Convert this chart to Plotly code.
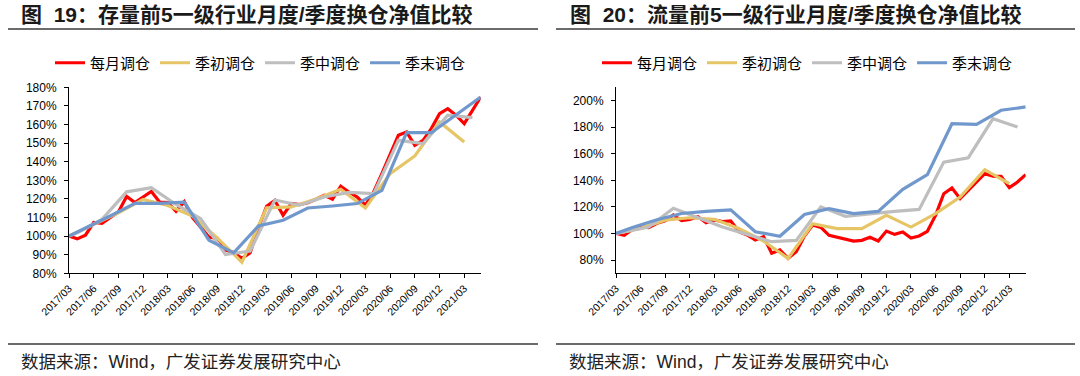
import plotly.graph_objects as go

months = ["2017/03","2017/04","2017/05","2017/06","2017/07","2017/08","2017/09","2017/10","2017/11","2017/12",
          "2018/01","2018/02","2018/03","2018/04","2018/05","2018/06","2018/07","2018/08","2018/09","2018/10",
          "2018/11","2018/12","2019/01","2019/02","2019/03","2019/04","2019/05","2019/06","2019/07","2019/08",
          "2019/09","2019/10","2019/11","2019/12","2020/01","2020/02","2020/03","2020/04","2020/05","2020/06",
          "2020/07","2020/08","2020/09","2020/10","2020/11","2020/12","2021/01","2021/02","2021/03","2021/04",
          "2021/05"]
tick_labels = months[0:49:3]

# quarterly rebalance months (start at the common base month 2017/03)
x_init = months[0::3]
x_mid = [months[0]] + months[1::3]
x_end = [months[0]] + months[2::3]

series_names = ["每月调仓", "季初调仓", "季中调仓", "季末调仓"]

# Figure 19 (left)
l_monthly = [100, 98.5, 100.5, 107.3, 106.8, 109.8, 113, 121.3, 118, 121,
             124, 118.3, 118, 113.3, 118.5, 110, 105, 99.5, 98.8, 92.5,
             91.2, 88, 91, 104.5, 116, 119.2, 111.2, 117.5, 116.9, 118,
             119.8, 121.9, 119.8, 126.8, 123.7, 121, 116.6, 123.7, 133.6, 144.3,
             154.2, 156, 148.8, 151.5, 157.8, 165.8, 168.5, 165, 160.5, 167.6,
             174.8]
l_init = [100, 106.3, 112.5, 119.7, 116.5, 110.8, 99, 86, 115.2, 115.7, 120, 125.2,
          115.1, 133.6, 143.1, 161.4, 150.6]
l_mid = [100, 101.8, 109, 123.8, 126, 117, 109.3, 90.1, 92, 119.4, 116.6, 121,
         123.5, 122.8, 151.5, 149.7, 165, 163.7]
l_end = [100, 104.2, 110.8, 117.6, 117.6, 118.3, 97.8, 91, 105.4, 108.5, 115.1, 116.2,
         117.5, 124.6, 155.6, 155.6, 165, 174.8]

# Figure 20 (right)
r_monthly = [100, 98.6, 103, 105, 104.4, 107.6, 109.6, 113.9, 109.6, 110.6,
             112.6, 108.1, 110.1, 108.9, 109.4, 101.4, 98.9, 95.1, 97.6, 85.1,
             87.6, 81.3, 86.3, 98, 106.3, 104.5, 98.6, 97.3, 96.1, 94.3,
             94.8, 97.1, 94.3, 101.8, 99.3, 101.1, 96.6, 98.1, 101.6, 113.6,
             129.9, 134.2, 126.2, 132.4, 139.2, 145, 143.2, 143, 134.5, 138.7,
             144.2]
r_init = [100, 103.8, 110, 111.8, 110.6, 103.8, 94.3, 81.2, 107.3, 103.6, 103.6, 113.6,
          104.8, 114.9, 127.4, 148, 137.5]
r_mid = [100, 101.3, 104.8, 118.9, 111.8, 104.8, 99.3, 93.8, 94.8, 120, 112.9, 114.9,
         116.6, 118.1, 153.7, 157, 186.3, 180.1]
r_end = [100, 104.4, 110.3, 115, 116.6, 117.8, 101.3, 97.9, 114.3, 118.6, 114.9, 116.6,
         133.2, 144.2, 182.6, 182.1, 192.7, 195.2]

colors = ["#FF0000", "#E6C567", "#BEBEBE", "#7098CC"]

W, H = 1080, 376
def px(x): return x / W
def py(y): return 1 - y / H

fig = go.Figure()

panels = [
    ("x", "y", "legend", [(months, l_monthly), (x_init, l_init), (x_mid, l_mid), (x_end, l_end)]),
    ("x2", "y2", "legend2", [(months, r_monthly), (x_init, r_init), (x_mid, r_mid), (x_end, r_end)]),
]
for xa, ya, lg, data in panels:
    for (xs, ys), name, c in zip(data, series_names, colors):
        fig.add_trace(go.Scatter(x=xs, y=ys, name=name, mode="lines",
                                 line=dict(color=c, width=3.2), xaxis=xa, yaxis=ya,
                                 legend=lg, hoverinfo="skip"))

tick_font = dict(family="Liberation Sans, Arial, sans-serif", size=12, color="#000000")
xcommon = dict(type="category", categoryorder="array", categoryarray=months,
               tickmode="array", tickvals=tick_labels, ticktext=tick_labels,
               tickangle=-45, range=[0, 50], showline=True, linecolor="#000000", linewidth=1,
               ticks="outside", ticklen=4, tickcolor="#000000", showgrid=False, automargin=False,
               zeroline=False, tickfont=dict(family="Liberation Sans, Arial, sans-serif", size=10.5, color="#000000"))
ycommon = dict(showline=True, linecolor="#000000", linewidth=1, ticks="outside", ticklen=4,
               tickcolor="#000000", showgrid=False, zeroline=False, tickfont=tick_font,
               automargin=False, ticksuffix="%", ticklabelstandoff=5)
ydom = [py(273.3), py(87.3)]
leg_font = dict(family="Noto Sans CJK SC", size=15, color="#000000")
fig.update_layout(
    width=W, height=H, margin=dict(l=0, r=0, t=0, b=0, autoexpand=False),
    paper_bgcolor="white", plot_bgcolor="white", showlegend=True,
    xaxis=dict(domain=[px(69), px(480.7)], anchor="y", **xcommon),
    xaxis2=dict(domain=[px(616), px(1025.7)], anchor="y2", **xcommon),
    yaxis=dict(domain=ydom, anchor="x", range=[80, 180], dtick=10, **ycommon),
    yaxis2=dict(domain=ydom, anchor="x2", range=[70, 210], dtick=20, **ycommon),
    legend=dict(orientation="h", x=px(50), y=py(63), xanchor="left", yanchor="middle",
                font=leg_font, itemwidth=30, bgcolor="rgba(0,0,0,0)", tracegroupgap=0),
    legend2=dict(orientation="h", x=px(597), y=py(63), xanchor="left", yanchor="middle",
                 font=leg_font, itemwidth=30, bgcolor="rgba(0,0,0,0)", tracegroupgap=0),
)

title_font = dict(family="Liberation Sans, Noto Sans CJK SC", size=21, color="#1A1A1A")
src_font = dict(family="Liberation Sans, Noto Sans CJK SC", size=17.5, color="#222222")
annotations = [
    dict(text="<b>图  19：存量前5一级行业月度/季度换仓净值比较</b>", x=px(19), y=py(15)),
    dict(text="<b>图  20：流量前5一级行业月度/季度换仓净值比较</b>", x=px(568), y=py(15)),
]
for a in annotations:
    fig.add_annotation(xref="paper", yref="paper", xanchor="left", yanchor="middle",
                       showarrow=False, font=title_font, **a)
for xs, txt in [(px(19), "数据来源：Wind，广发证券发展研究中心"), (px(567), "数据来源：Wind，广发证券发展研究中心")]:
    fig.add_annotation(xref="paper", yref="paper", x=xs, y=py(362), xanchor="left", yanchor="middle",
                       showarrow=False, font=src_font, text=txt)

for x0, x1 in [(8, 538), (556, 1075)]:
    for yy in (29, 344):
        fig.add_shape(type="line", xref="paper", yref="paper", x0=px(x0), x1=px(x1),
                      y0=py(yy), y1=py(yy), line=dict(color="#3A3A3A", width=1.5))

fig.write_html("out.html", config={"displayModeBar": False},
               post_script="document.body.style.margin='0';document.body.style.overflow='hidden';")
